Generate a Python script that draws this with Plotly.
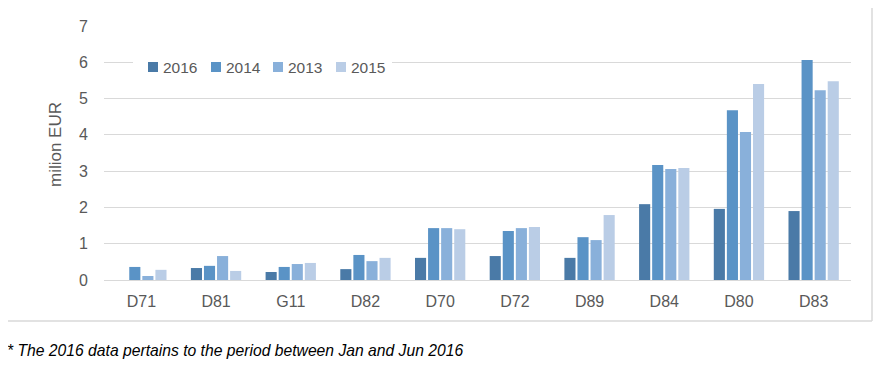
import plotly.graph_objects as go

categories = ["D71", "D81", "G11", "D82", "D70", "D72", "D89", "D84", "D80", "D83"]
series_names = ["2016", "2014", "2013", "2015"]
v2016 = [0.0, 0.33, 0.22, 0.30, 0.61, 0.66, 0.61, 2.09, 1.96, 1.90]
v2014 = [0.36, 0.39, 0.36, 0.69, 1.43, 1.35, 1.18, 3.17, 4.68, 6.06]
v2013 = [0.11, 0.66, 0.44, 0.52, 1.43, 1.43, 1.10, 3.06, 4.08, 5.23]
v2015 = [0.28, 0.25, 0.47, 0.61, 1.40, 1.46, 1.79, 3.09, 5.40, 5.48]
y_ticks = [0, 1, 2, 3, 4, 5, 6, 7]
footnote = "* The 2016 data pertains to the period between Jan and Jun 2016"
y_title = "milion EUR"

colors = ["#4A7AA7", "#5A93C6", "#89B0DA", "#BACDE6"]
values = [v2016, v2014, v2013, v2015]

OFF = 8  # page body margin
W, H = 885 - OFF, 367 - OFF
L, R, T, B = 96, 34, 18, 87
pw, ph = W - L - R, H - T - B

def px(x):
    return (x - OFF - L) / pw

def py(y):
    return (H - B - (y - OFF)) / ph

FONT = "Liberation Sans"
GREY = "#595959"

fig = go.Figure()
for name, vals, col in zip(series_names, values, colors):
    fig.add_trace(go.Bar(x=categories, y=vals, name=name, marker_color=col,
                         marker_line_width=0, showlegend=False))

fig.update_layout(
    width=W, height=H,
    margin=dict(l=L, r=R, t=T, b=B, autoexpand=False),
    paper_bgcolor="white", plot_bgcolor="white",
    barmode="group", bargap=0.30, bargroupgap=0.15,
    font=dict(family=FONT, color=GREY, size=16),
    showlegend=False,
    xaxis=dict(showgrid=False, showline=False, ticks="", tickfont=dict(size=16, color=GREY),
               ticklabelstandoff=10, fixedrange=True),
    yaxis=dict(range=[0, 7], tickvals=y_ticks, showgrid=True, gridcolor="#D9D9D9",
               gridwidth=1, zeroline=True, zerolinecolor="#D9D9D9", zerolinewidth=1,
               showline=False, ticks="", tickfont=dict(size=16, color=GREY),
               ticklabelstandoff=15, fixedrange=True),
)

# legend (drawn inside the plot, white box over the gridline)
fig.add_shape(type="rect", xref="paper", yref="paper", x0=px(133), x1=px(392), y0=py(56), y1=py(79),
              fillcolor="white", line_width=0, layer="above")
leg_x = [148, 211, 273, 336]
for name, col, lx in zip(series_names, colors, leg_x):
    fig.add_shape(type="rect", xref="paper", yref="paper", x0=px(lx), x1=px(lx + 10),
                  y0=py(72), y1=py(62), fillcolor=col, line_width=0, layer="above")
    fig.add_annotation(text=name, x=px(lx + 13), y=py(67), xref="paper", yref="paper",
                       showarrow=False, xanchor="left", yanchor="middle",
                       font=dict(size=15.5, color=GREY))

fig.add_annotation(text=y_title, textangle=-90, x=px(55), y=py(145), xref="paper", yref="paper",
                   showarrow=False, font=dict(size=17, color=GREY), xanchor="center", yanchor="middle")

fig.add_annotation(text="<i>" + footnote + "</i>", x=px(5), y=py(350), xref="paper", yref="paper",
                   showarrow=False, font=dict(size=15.7, color="#000000"), xanchor="left", yanchor="middle")

border = dict(color="#D9D9D9", width=1.5)
fig.add_shape(type="line", xref="paper", yref="paper", x0=px(6), x1=px(6), y0=py(5), y1=py(321), line=border)
fig.add_shape(type="line", xref="paper", yref="paper", x0=px(872), x1=px(872), y0=py(5), y1=py(321), line=border)
fig.add_shape(type="line", xref="paper", yref="paper", x0=px(6), x1=px(872), y0=py(321), y1=py(321), line=border)

fig.write_html("out.html")
